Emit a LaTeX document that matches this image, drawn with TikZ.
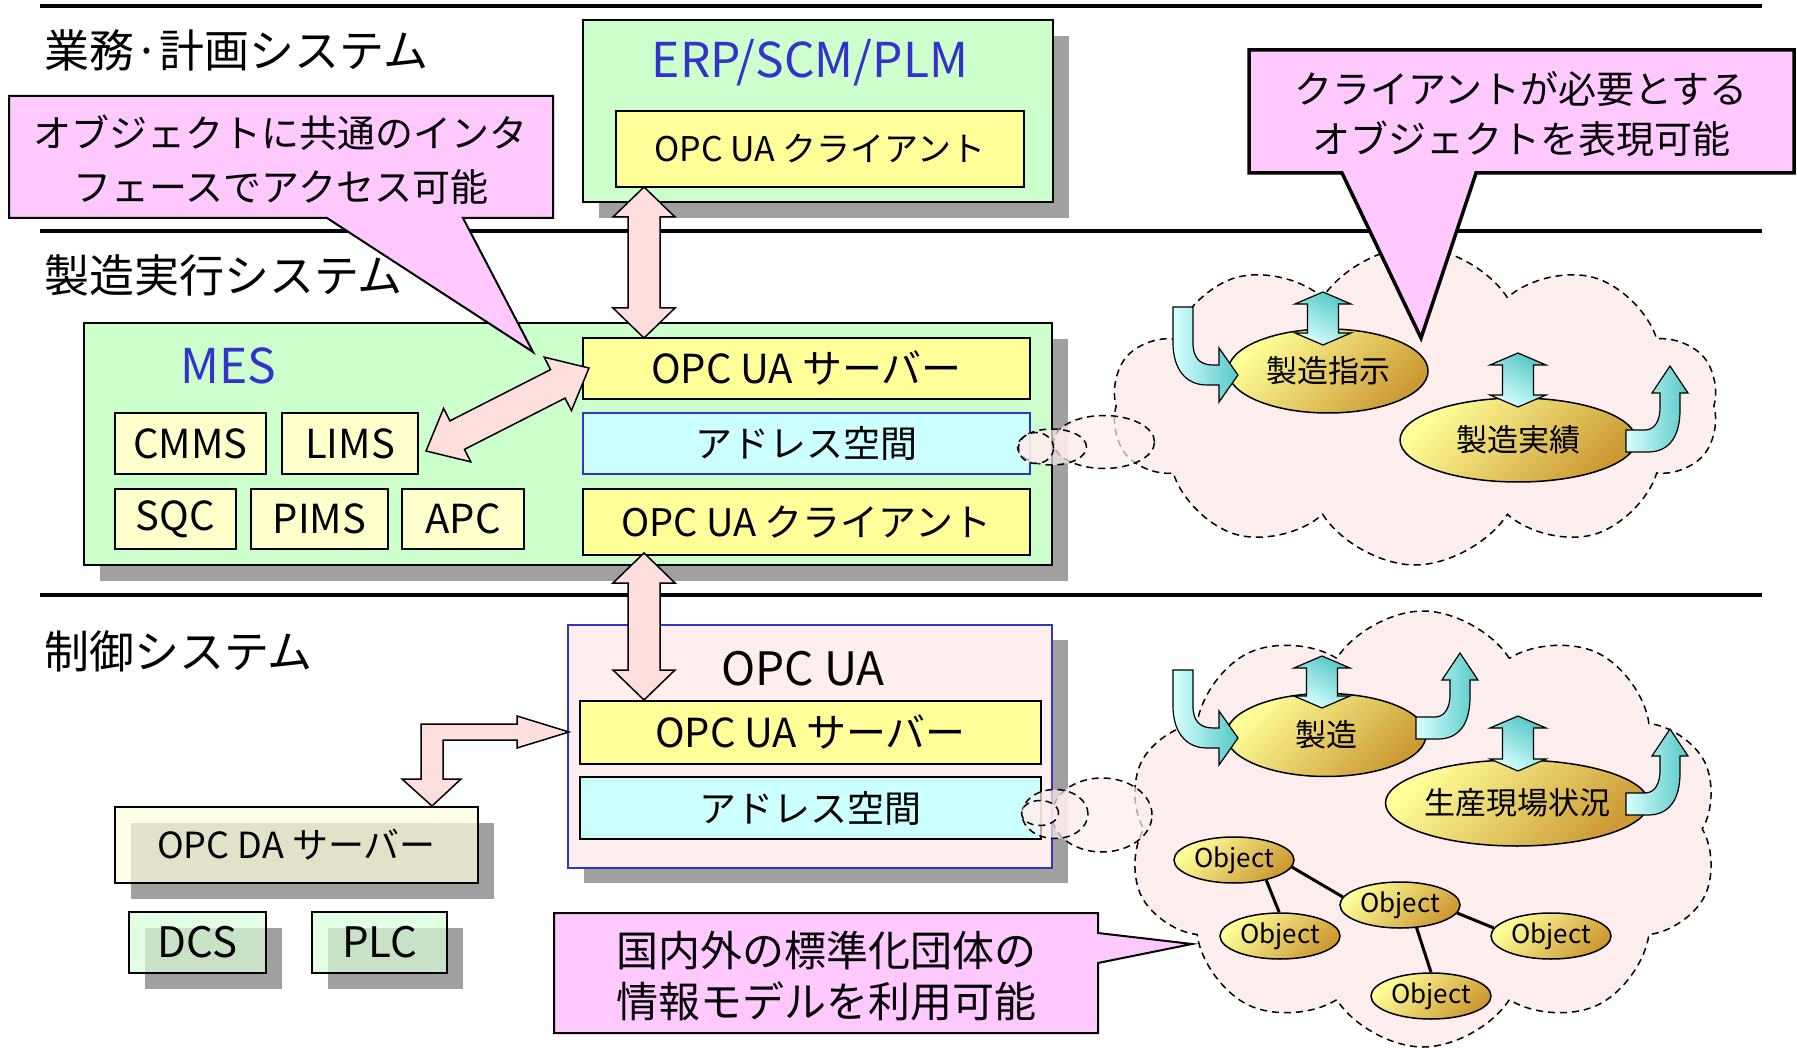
\documentclass[tikz,border=0pt]{standalone}
\usepackage{fontspec}
\setmainfont{Noto Sans CJK JP}
\usetikzlibrary{calc,shapes.geometric,shapes.symbols}

\definecolor{boxgreen}{HTML}{CCFFCC}
\definecolor{boxyellow}{HTML}{FFFF99}
\definecolor{paleyellow}{HTML}{FFFFCC}
\definecolor{boxcyan}{HTML}{CCFFFF}
\definecolor{titleblue}{HTML}{3333CC}
\definecolor{shadowgray}{HTML}{A0A0A0}
\definecolor{calloutpink}{HTML}{FFC8FF}
\definecolor{arrowpink}{HTML}{FFDEDE}
\definecolor{cloudpink}{HTML}{FDEEEE}
\definecolor{uapink}{HTML}{FFEEEE}
\definecolor{goldlight}{HTML}{FFFF99}
\definecolor{golddark}{HTML}{CC9933}
\definecolor{tealdark}{HTML}{55C8C8}
\definecolor{teallight}{HTML}{D8FFFF}
\definecolor{dagreen}{HTML}{D8FFD8}
\definecolor{dayellow}{HTML}{FFFFDD}

\newcommand\myfs[2]{\fontsize{#1}{#2}\selectfont}

% fat double arrow: #1 style, #2 A, #3 B, #4 head half width, #5 shaft half width, #6 head length
\newcommand\fatdarrow[6]{%
 \path[#1] (#2)
  -- ($(#2)!#6!(#3)!#4!90:(#3)$)
  -- ($(#2)!#6!(#3)!#5!90:(#3)$)
  -- ($(#3)!#6!(#2)!#5!-90:(#2)$)
  -- ($(#3)!#6!(#2)!#4!-90:(#2)$)
  -- (#3)
  -- ($(#3)!#6!(#2)!#4!90:(#2)$)
  -- ($(#3)!#6!(#2)!#5!90:(#2)$)
  -- ($(#2)!#6!(#3)!#5!-90:(#3)$)
  -- ($(#2)!#6!(#3)!#4!-90:(#3)$)
  -- cycle;}

% bent arrow coming in from above-left (pointing right)
\newcommand\bentin[2]{%
 \path[cyanarrow, shift={(#1,#2)}] (1173,307) -- (1193,307) -- (1193,343)
   .. controls (1193,358) and (1200,365) .. (1213,365) -- (1219,365) -- (1219,348)
   -- (1238,375) -- (1219,402) -- (1219,385) -- (1207,385)
   .. controls (1185,385) and (1173,368) .. (1173,343) -- cycle;}
% bent arrow going out to the right and up
\newcommand\bentout[2]{%
 \path[cyanarrow, shift={(#1,#2)}] (1626,430) -- (1645,430)
   .. controls (1655,430) and (1660,420) .. (1660,408) -- (1660,393) -- (1652,393)
   -- (1670,366) -- (1688,393) -- (1680,393) -- (1680,410)
   .. controls (1680,438) and (1668,452) .. (1648,452) -- (1626,452) -- cycle;}

\tikzset{
 sysbox/.style={draw=black, line width=2pt, fill=boxgreen},
 uabox/.style={draw=black, line width=2pt, fill=boxyellow},
 subbox/.style={draw=black, line width=2pt, fill=paleyellow, font={\myfs{40}{40}}},
 addrbox/.style={line width=2pt, fill=boxcyan, font={\myfs{37}{37}}},
 pinkarrow/.style={draw=black, line width=1.5pt, fill=arrowpink},
 cyanarrow/.style={draw=black, line width=1.2pt, left color=teallight, right color=tealdark},
 cyandarrow/.style={draw=black, line width=1.2pt, top color=tealdark, bottom color=teallight, shading angle=-30},
 goldell/.style={ellipse, draw=black, line width=1.5pt, top color=goldlight, bottom color=golddark, shading angle=45},
 objell/.style={goldell, minimum width=120, minimum height=46, font={\myfs{26}{26}}},
 cloudsh/.style={cloud, cloud puffs=10, cloud puff arc=115, cloud ignores aspect, draw=black, line width=1.5pt, dash pattern=on 7pt off 5pt, fill=cloudpink},
 bubble/.style={ellipse, draw=black, line width=1.5pt, dash pattern=on 7pt off 5pt, fill=cloudpink, fill opacity=0.7, draw opacity=1},
 callout/.style={draw=black, line width=2pt, fill=calloutpink},
 seclabel/.style={anchor=west, font={\myfs{45}{45}}},
 sepline/.style={line width=3.5pt},
 objline/.style={line width=3pt}
}

\begin{document}
\begin{tikzpicture}[x=1pt,y=-1pt, every node/.style={inner sep=0pt}]
\useasboundingbox (0,0) rectangle (1797,1048);
\fill[white] (0,0) rectangle (1797,1048);

% separator lines
\draw[sepline] (40,6) -- (1762,6);
\draw[sepline] (40,231) -- (1762,231);
\draw[sepline] (40,595) -- (1762,595);

% ERP box
\fill[shadowgray] (599,36) rectangle (1069,218);
\node[sysbox, minimum width=470, minimum height=182] (erp) at (818,111) {};
\node[font={\myfs{48}{48}}, text=titleblue] (erpt) at (810,63) {ERP/SCM/PLM};
\node[uabox, minimum width=408, minimum height=76, font={\myfs{34}{34}}] (erpc) at (820,149) {OPC UA クライアント};

% MES box
\fill[shadowgray] (100,339) rectangle (1068,581);
\node[sysbox, minimum width=968, minimum height=242] (mes) at (568,444) {};
\node[font={\myfs{48}{48}}, text=titleblue] (mest) at (228,366) {MES};
\node[subbox, minimum width=151, minimum height=61] (cmms) at (190.5,443.5) {CMMS};
\node[subbox, minimum width=136, minimum height=61] (lims) at (350,443.5) {LIMS};
\node[subbox, minimum width=121, minimum height=60] (sqc) at (175.5,519) {SQC};
\node[subbox, minimum width=137, minimum height=60] (pims) at (319.5,519) {PIMS};
\node[subbox, minimum width=122, minimum height=60] (apc) at (463,519) {APC};
\node[uabox, minimum width=447, minimum height=61, font={\myfs{40}{40}}] (mess) at (806.5,368.5) {OPC UA サーバー};
\node[addrbox, draw=titleblue, minimum width=447, minimum height=61] (mesa) at (806.5,443.5) {アドレス空間};
\node[uabox, minimum width=447, minimum height=66, font={\myfs{38}{38}}] (mesc) at (806.5,522) {OPC UA クライアント};

% OPC UA box
\fill[shadowgray] (584,640) rectangle (1068,883);
\node[draw=titleblue, line width=1.5pt, fill=uapink, minimum width=484, minimum height=243] (ua) at (810,746.5) {};
\node[font={\myfs{46}{46}}] (uat) at (803,669) {OPC UA};
\node[uabox, minimum width=461, minimum height=63, font={\myfs{40}{40}}] (uas) at (810.5,732.5) {OPC UA サーバー};
\node[addrbox, draw=black, minimum width=461, minimum height=62] (uaa) at (810.5,808) {アドレス空間};

% OPC DA server, DCS, PLC
\fill[shadowgray] (131,823) rectangle (494,899);
\node[draw=black, line width=2pt, fill=dayellow, fill opacity=0.7, text opacity=1, minimum width=363, minimum height=76, font={\myfs{36}{36}}] (da) at (296.5,845) {OPC DA サーバー};
\fill[shadowgray] (145,928) rectangle (282,989);
\node[draw=black, line width=2pt, fill=dagreen, fill opacity=0.7, text opacity=1, minimum width=137, minimum height=61, font={\myfs{42}{42}}] (dcs) at (197.5,942.5) {DCS};
\fill[shadowgray] (328,928) rectangle (463,989);
\node[draw=black, line width=2pt, fill=dagreen, fill opacity=0.7, text opacity=1, minimum width=135, minimum height=61, font={\myfs{42}{42}}] (plc) at (379.5,942.5) {PLC};

% pink arrows
\coordinate (t1) at (644,187);
\coordinate (t2) at (644,338);
\coordinate (t3) at (644,553);
\coordinate (t4) at (644,700);
\coordinate (t5) at (426,451);
\coordinate (t6) at (589,368);
\fatdarrow{pinkarrow}{t1}{t2}{31pt}{16pt}{30pt}
\fatdarrow{pinkarrow}{t3}{t4}{31pt}{16pt}{30pt}
\fatdarrow{pinkarrow}{t5}{t6}{30pt}{16pt}{35pt}
\coordinate (ta) at (432,806);
\coordinate (tb) at (569,732);
\path[pinkarrow] (421,724) -- (517,724) -- (517,716) -- (tb) -- (517,748) -- (517,740)
  -- (443,740) -- (443,779) -- (461,779) -- (ta) -- (402,779) -- (421,779) -- cycle;

% clouds
\node[cloudsh, minimum width=607, minimum height=318] (cl1) at (1415,406) {};
\node[cloudsh, minimum width=592, minimum height=436] (cl2) at (1423,829) {};

% thought bubbles
\node[bubble, minimum width=101, minimum height=53] (b1c) at (1104,442) {};
\node[bubble, minimum width=69, minimum height=36] (b1b) at (1052,447) {};
\node[bubble, minimum width=35, minimum height=31] (b1a) at (1036,448) {};
\node[bubble, minimum width=100, minimum height=74] (b2c) at (1102,815) {};
\node[bubble, minimum width=66, minimum height=49] (b2b) at (1055,814) {};
\node[bubble, minimum width=37, minimum height=25] (b2a) at (1040,813) {};

% cloud 1 content
\node[goldell, minimum width=200, minimum height=84, font={\myfs{31}{31}}] (e1) at (1328,371) {製造指示};
\node[goldell, minimum width=236, minimum height=84, font={\myfs{31}{31}}] (e2) at (1518,440) {製造実績};
\coordinate (u1) at (1323,292);
\coordinate (u2) at (1323,345);
\coordinate (u3) at (1518,353);
\coordinate (u4) at (1518,407);
\fatdarrow{cyandarrow}{u1}{u2}{28pt}{15.5pt}{12pt}
\fatdarrow{cyandarrow}{u3}{u4}{28pt}{15.5pt}{12pt}
\bentin{0}{0}
\bentout{0}{0}

% cloud 2 content
\node[goldell, minimum width=200, minimum height=83, font={\myfs{31}{31}}] (e3) at (1326,735) {製造};
\node[goldell, minimum width=234, minimum height=86, font={\myfs{31}{31}}] (e4) at (1517,803) {生産現場状況};
\coordinate (u5) at (1322,656);
\coordinate (u6) at (1322,708);
\coordinate (u7) at (1518,716);
\coordinate (u8) at (1518,771);
\fatdarrow{cyandarrow}{u5}{u6}{28pt}{15.5pt}{12pt}
\fatdarrow{cyandarrow}{u7}{u8}{28pt}{15.5pt}{12pt}
\bentin{0}{363}
\bentout{-210}{287}
\bentout{0}{363}

% objects
\node[objell] (o1) at (1234,860) {Object};
\node[objell] (o2) at (1280,936) {Object};
\node[objell] (o3) at (1400,905) {Object};
\node[objell] (o4) at (1551,936) {Object};
\node[objell] (o5) at (1431,996) {Object};
\draw[objline] (o1.-32) -- (o2.92);
\draw[objline] (o1.-7) -- (o3.172);
\draw[objline] (o3.-8) -- (o4.172);
\draw[objline] (o3.-54) -- (o5.north);

% callouts
\path[callout] (9,96) -- (553,96) -- (553,218) -- (463,218) -- (533,352) -- (327,218) -- (9,218) -- cycle;
\node[align=center, font={\myfs{38}{54}}] (c1) at (281,160) {オブジェクトに共通のインタ\\フェースでアクセス可能};
\path[callout, line width=3.5pt] (1249,50) -- (1794,50) -- (1794,173) -- (1476,173) -- (1421,338) -- (1342,173) -- (1249,173) -- cycle;
\node[align=center, font={\myfs{38}{50}}] (c2) at (1521,114) {クライアントが必要とする\\オブジェクトを表現可能};
\path[callout] (554,913) -- (1098,913) -- (1098,933) -- (1192,944) -- (1098,963) -- (1098,1033) -- (554,1033) -- cycle;
\node[align=center, font={\myfs{42}{51}}] (c3) at (826,976) {国内外の標準化団体の\\情報モデルを利用可能};

% section labels
\node[seclabel] (s1) at (44,50) {業務·計画システム};
\node[seclabel] (s2) at (44,275) {製造実行システム};
\node[seclabel] (s3) at (44,651) {制御システム};
\end{tikzpicture}
\end{document}
